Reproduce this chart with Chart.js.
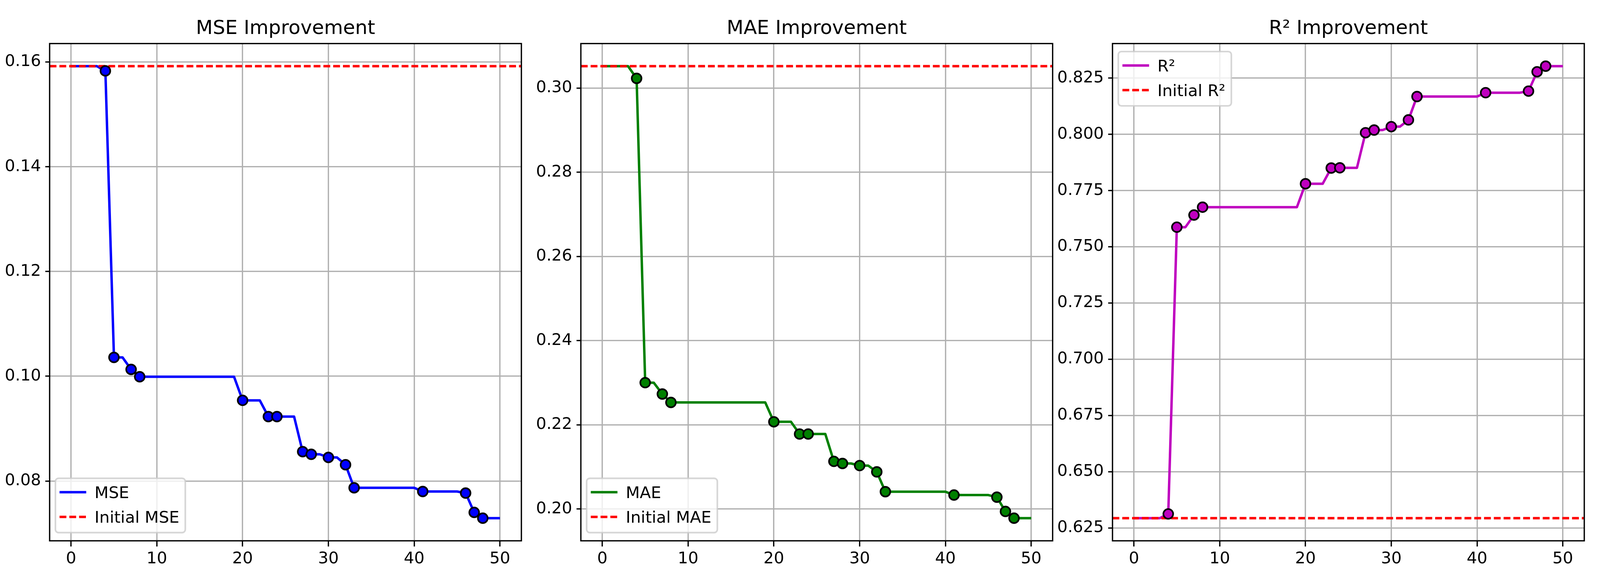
<!DOCTYPE html>
<html>
<head>
<meta charset="utf-8">
<script src="https://cdn.jsdelivr.net/npm/chart.js@4/dist/chart.umd.min.js"></script>
<style>
    html, body { margin: 0; padding: 0; background: #fff; overflow: hidden; }
    #fig { position: relative; width: 100vw; height: 1500px; overflow: hidden; background: #fff; }
    .panel { position: absolute; top: 0; height: 1500px; }
</style>
</head>
<body>
<div id="fig"></div>
<script>
// ── Data (best-so-far per iteration 0..50) ───────────────────────────────────
const MSE = [
    0.1592, 0.1592, 0.1592, 0.1592, 0.1583, 0.1036, 0.1036, 0.1013, 0.0999, 0.0999,
    0.0999, 0.0999, 0.0999, 0.0999, 0.0999, 0.0999, 0.0999, 0.0999, 0.0999, 0.0999,
    0.0954, 0.0954, 0.0954, 0.0923, 0.0923, 0.0923, 0.0923, 0.0856, 0.0851, 0.0851,
    0.0845, 0.0845, 0.0831, 0.0787, 0.0787, 0.0787, 0.0787, 0.0787, 0.0787, 0.0787,
    0.0787, 0.0780, 0.0780, 0.0780, 0.0780, 0.0780, 0.0777, 0.0740, 0.0729, 0.0729,
    0.0729
];
const MAE = [
    0.3052, 0.3052, 0.3052, 0.3052, 0.3023, 0.2300, 0.2300, 0.2273, 0.2253, 0.2253,
    0.2253, 0.2253, 0.2253, 0.2253, 0.2253, 0.2253, 0.2253, 0.2253, 0.2253, 0.2253,
    0.2207, 0.2207, 0.2207, 0.2178, 0.2178, 0.2178, 0.2178, 0.2113, 0.2108, 0.2108,
    0.2103, 0.2103, 0.2088, 0.2041, 0.2041, 0.2041, 0.2041, 0.2041, 0.2041, 0.2041,
    0.2041, 0.2033, 0.2033, 0.2033, 0.2033, 0.2033, 0.2028, 0.1994, 0.1978, 0.1978,
    0.1978
];
const R2 = [
    0.6293, 0.6293, 0.6293, 0.6293, 0.6312, 0.7587, 0.7587, 0.7641, 0.7676, 0.7676,
    0.7676, 0.7676, 0.7676, 0.7676, 0.7676, 0.7676, 0.7676, 0.7676, 0.7676, 0.7676,
    0.7780, 0.7780, 0.7780, 0.7850, 0.7851, 0.7851, 0.7851, 0.8007, 0.8019, 0.8019,
    0.8034, 0.8034, 0.8064, 0.8168, 0.8168, 0.8168, 0.8168, 0.8168, 0.8168, 0.8168,
    0.8168, 0.8185, 0.8185, 0.8185, 0.8185, 0.8185, 0.8192, 0.8278, 0.8303, 0.8303,
    0.8303
];
const MSE_INIT = 0.1592;
const MAE_INIT = 0.3052;
const R2_INIT = 0.6293;
const IMPROVED_AT = [4, 5, 7, 8, 20, 23, 24, 27, 28, 30, 32, 33, 41, 46, 47, 48];

const X_TICKS = [0, 10, 20, 30, 40, 50];
const MSE_TICKS = [0.08, 0.10, 0.12, 0.14, 0.16];
const MAE_TICKS = [0.20, 0.22, 0.24, 0.26, 0.28, 0.30];
const R2_TICKS = [0.625, 0.650, 0.675, 0.700, 0.725, 0.750, 0.775, 0.800, 0.825];

// ── Layout & style (matplotlib @ 300 dpi, 5400px wide figure) ────────────────
const FIG_W = 5400;
const SX = Math.min(1, window.innerWidth / FIG_W);   // window may be narrower than the figure
const SPINE_LEFT = [167.5, 1960, 3754.3];
const PLOT_W = 1601;
const PLOT_TOP = 111.5, PLOT_BOTTOM = 1384.3;

const PT = 300 / 72;
const FONT = "'DejaVu Sans', sans-serif";
const TICK_PX = 10 * PT;
const TITLE_PX = 12 * PT;
const LINE_W = 1.5 * PT;
const THIN_W = 0.8 * PT;
const TICK_LEN = 3.5 * PT;
const DASH = [23 * SX, 10 * SX];
const X_AXIS_H = 100;

Chart.defaults.font.family = FONT;
Chart.defaults.font.size = TICK_PX;
Chart.defaults.color = '#000';

const $ = id => document.getElementById(id);

// matplotlib-like autoscale: 5% margin around the data
function span(values) {
    const lo = Math.min(...values), hi = Math.max(...values);
    const m = (hi - lo) * 0.05;
    return [lo - m, hi + m];
}

// ── Frame, title & legend plugin ─────────────────────────────────────────────
const mplDecor = {
    id: 'mplDecor',
    afterDatasetsDraw(chart, args, opts) {
        const { ctx, chartArea: a } = chart;
        ctx.save();

        // spines
        ctx.strokeStyle = '#000';
        ctx.lineWidth = THIN_W;
        ctx.setLineDash([]);
        ctx.strokeRect(a.left, a.top, a.right - a.left, a.bottom - a.top);

        // title
        ctx.font = `${TITLE_PX}px ${FONT}`;
        ctx.fillStyle = '#000';
        ctx.textAlign = 'center';
        ctx.textBaseline = 'alphabetic';
        ctx.fillText(opts.title, (a.left + a.right) / 2, a.top - 25);

        // legend
        ctx.font = `${TICK_PX}px ${FONT}`;
        const tw = Math.max(...opts.items.map(it => ctx.measureText(it.label).width));
        const w = 132 * SX + tw + 20 * SX, h = 139;
        const x = a.left + 19.5 * SX;
        const y = opts.legendAt === 'upper' ? a.top + 20.5 : a.bottom - 21 - h;
        ctx.beginPath();
        ctx.roundRect(x, y, w, h, 8);
        ctx.fillStyle = 'rgba(255,255,255,0.8)';
        ctx.fill();
        ctx.strokeStyle = 'rgba(204,204,204,0.8)';
        ctx.lineWidth = PT;
        ctx.stroke();

        opts.items.forEach((it, i) => {
            const ry = y + 35.5 + i * 63.2;
            ctx.beginPath();
            ctx.setLineDash(it.dash || []);
            ctx.lineCap = 'butt';
            ctx.strokeStyle = it.color;
            ctx.lineWidth = LINE_W;
            ctx.moveTo(x + 14 * SX, ry);
            ctx.lineTo(x + 104 * SX, ry);
            ctx.stroke();
            ctx.setLineDash([]);
            ctx.fillStyle = '#000';
            ctx.textAlign = 'left';
            ctx.textBaseline = 'alphabetic';
            ctx.fillText(it.label, x + 132 * SX, ry + 15);
        });
        ctx.restore();
    }
};

// ── Chart factory ─────────────────────────────────────────────────────────────
function makePanel(idx, cfg) {
    const spine = SPINE_LEFT[idx] * SX;
    const yAxisW = Math.min(160, spine);
    const div = document.createElement('div');
    div.className = 'panel';
    div.style.left = `${spine - yAxisW}px`;
    div.style.width = `${yAxisW + PLOT_W * SX + 10}px`;
    const canvas = document.createElement('canvas');
    div.appendChild(canvas);
    $('fig').appendChild(div);

    const series = cfg.series;
    const [yMin, yMax] = span([...series, cfg.init]);
    const [xMin, xMax] = span([0, series.length - 1]);
    const fixTicks = list => scale => { scale.ticks = list.map(value => ({ value })); };
    const gridOpts = len => ({ color: '#b0b0b0', lineWidth: THIN_W, tickColor: '#000', tickWidth: THIN_W, tickLength: len });

    return new Chart(canvas, {
        type: 'scatter',
        data: {
            datasets: [
                {
                    // improvement markers, on top
                    data: IMPROVED_AT.map(i => ({ x: i, y: series[i] })),
                    showLine: false,
                    pointRadius: 3 * PT,
                    pointBorderWidth: PT,
                    pointBackgroundColor: cfg.color,
                    pointBorderColor: '#000',
                    order: 1
                },
                {
                    label: `Initial ${cfg.label}`,
                    data: [{ x: xMin, y: cfg.init }, { x: xMax, y: cfg.init }],
                    showLine: true,
                    borderColor: '#ff0000',
                    borderWidth: LINE_W,
                    borderDash: DASH,
                    borderCapStyle: 'butt',
                    pointRadius: 0,
                    order: 2
                },
                {
                    label: cfg.label,
                    data: series.map((v, i) => ({ x: i, y: v })),
                    showLine: true,
                    borderColor: cfg.color,
                    borderWidth: LINE_W,
                    borderJoinStyle: 'round',
                    tension: 0,
                    pointRadius: 0,
                    order: 3
                }
            ]
        },
        options: {
            responsive: true, maintainAspectRatio: false,
            devicePixelRatio: 1,
            animation: false,
            events: [],
            layout: { padding: { top: PLOT_TOP, bottom: 1500 - PLOT_BOTTOM - X_AXIS_H, left: 0, right: 10 } },
            plugins: {
                legend: { display: false },
                tooltip: { enabled: false },
                mplDecor: {
                    title: cfg.title,
                    legendAt: cfg.legendAt,
                    items: [
                        { label: cfg.label, color: cfg.color },
                        { label: `Initial ${cfg.label}`, color: '#ff0000', dash: DASH }
                    ]
                }
            },
            scales: {
                x: {
                    type: 'linear', min: xMin, max: xMax,
                    afterBuildTicks: fixTicks(X_TICKS),
                    afterFit: s => { s.height = X_AXIS_H; },
                    border: { display: false },
                    grid: gridOpts(TICK_LEN),
                    ticks: { padding: 7, maxRotation: 0, callback: v => String(v) }
                },
                y: {
                    type: 'linear', min: yMin, max: yMax,
                    afterBuildTicks: fixTicks(cfg.yTicks),
                    afterFit: s => { s.width = yAxisW; },
                    border: { display: false },
                    grid: gridOpts(TICK_LEN * SX),
                    ticks: { padding: TICK_LEN * SX, callback: v => v.toFixed(cfg.decimals) }
                }
            }
        },
        plugins: [mplDecor]
    });
}

makePanel(0, { title: 'MSE Improvement', label: 'MSE', color: '#0000ff', series: MSE, init: MSE_INIT, yTicks: MSE_TICKS, decimals: 2, legendAt: 'lower' });
makePanel(1, { title: 'MAE Improvement', label: 'MAE', color: '#008000', series: MAE, init: MAE_INIT, yTicks: MAE_TICKS, decimals: 2, legendAt: 'lower' });
makePanel(2, { title: 'R² Improvement', label: 'R²', color: '#bf00bf', series: R2, init: R2_INIT, yTicks: R2_TICKS, decimals: 3, legendAt: 'upper' });
</script>
</body>
</html>
